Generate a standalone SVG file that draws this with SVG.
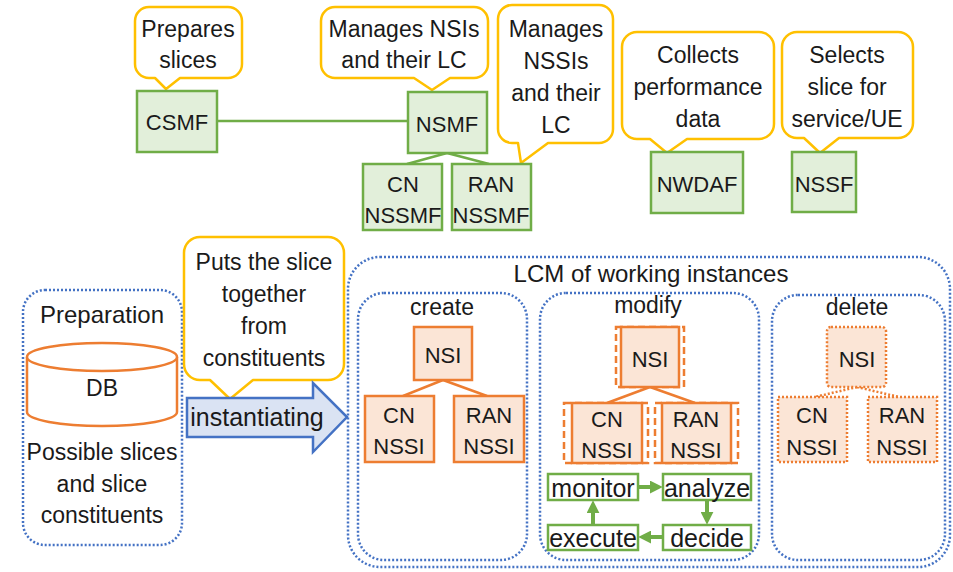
<svg xmlns="http://www.w3.org/2000/svg" width="953" height="572" viewBox="0 0 953 572">
<style>
.cal{fill:#fff;stroke:#ffc000;stroke-width:2.5;stroke-linejoin:round}
.g{fill:#e2efda;stroke:#70ad47;stroke-width:2.5}
.o{fill:#fbe5d6;stroke:#ed7d31;stroke-width:2.5}
.od{fill:none;stroke:#ed7d31;stroke-width:2.5;stroke-dasharray:7 4}
.odot{fill:#fbe5d6;stroke:#ed7d31;stroke-width:2.5;stroke-dasharray:2 2}
.bl{fill:none;stroke:#4472c4;stroke-width:2.5;stroke-dasharray:2 2}
.m{fill:#fff;stroke:#70ad47;stroke-width:2.5}
.gl{stroke:#70ad47;stroke-width:2.5;fill:none}
.ol{stroke:#ed7d31;stroke-width:2.5;fill:none}
.oldot{stroke:#ed7d31;stroke-width:2.5;fill:none;stroke-dasharray:2 2}
.ga{stroke:#70ad47;stroke-width:4;fill:none;marker-end:url(#ah)}
text{font-family:"Liberation Sans",Arial,sans-serif;font-size:23px;fill:#1a1a1a;text-anchor:middle}
.b{font-size:22px}
.big{font-size:24px}
.mp{font-size:25px}
</style>
<defs>
<marker id="ah" viewBox="0 0 10 10" refX="4" refY="5" markerWidth="13" markerHeight="13" markerUnits="userSpaceOnUse" orient="auto"><path d="M0,0 L10,5 L0,10 Z" fill="#70ad47"/></marker>
</defs>

<g id="connectors">
<line class="gl" x1="217" y1="121" x2="408" y2="121"/>
<line class="gl" x1="447" y1="153" x2="407" y2="164"/>
<line class="gl" x1="447" y1="153" x2="489" y2="164"/>
<line class="ol" x1="443" y1="380" x2="403" y2="396"/>
<line class="ol" x1="443" y1="380" x2="487" y2="396"/>
<line class="ol" x1="650" y1="387" x2="607" y2="403"/>
<line class="ol" x1="650" y1="387" x2="695" y2="403"/>
<line class="oldot" x1="857" y1="387" x2="815" y2="397"/>
<line class="oldot" x1="857" y1="387" x2="899" y2="397"/>
<line class="ga" x1="638" y1="487" x2="655" y2="487"/>
<line class="ga" x1="707" y1="500" x2="707" y2="517"/>
<line class="ga" x1="663" y1="537" x2="646" y2="537"/>
<line class="ga" x1="593" y1="525" x2="593" y2="508"/>
</g>

<g id="callout-csmf">
<path class="cal" d="M149,7 H228 A14,14 0 0 1 242,21 V64 A14,14 0 0 1 228,78 H180 L166,89 L155,78 H149 A14,14 0 0 1 135,64 V21 A14,14 0 0 1 149,7 Z"/>
<text x="188" y="37">Prepares</text><text x="188" y="68">slices</text>
</g>
<g id="callout-nsmf">
<path class="cal" d="M335,7 H474 A14,14 0 0 1 488,21 V64 A14,14 0 0 1 474,78 H450 L432,90 L414,78 H335 A14,14 0 0 1 321,64 V21 A14,14 0 0 1 335,7 Z"/>
<text x="404" y="37">Manages NSIs</text><text x="404" y="68">and their LC</text>
</g>
<g id="callout-nssmf">
<path class="cal" d="M512,5 H599 A14,14 0 0 1 613,19 V129 A14,14 0 0 1 599,143 H548 L521,163 L518,143 H512 A14,14 0 0 1 498,129 V19 A14,14 0 0 1 512,5 Z"/>
<text x="556" y="37">Manages</text><text x="556" y="69">NSSIs</text><text x="556" y="101">and their</text><text x="556" y="133">LC</text>
</g>
<g id="callout-nwdaf">
<path class="cal" d="M637,32 H759 A15,15 0 0 1 774,47 V124 A15,15 0 0 1 759,139 H687 L667,153 L650,139 H637 A15,15 0 0 1 622,124 V47 A15,15 0 0 1 637,32 Z"/>
<text x="698" y="63">Collects</text><text x="698" y="95">performance</text><text x="698" y="127">data</text>
</g>
<g id="callout-nssf">
<path class="cal" d="M797,32 H898 A15,15 0 0 1 913,47 V123 A15,15 0 0 1 898,138 H839 L820,153 L804,138 H797 A15,15 0 0 1 782,123 V47 A15,15 0 0 1 797,32 Z"/>
<text x="847" y="63">Selects</text><text x="847" y="95">slice for</text><text x="847" y="127">service/UE</text>
</g>

<g id="csmf"><rect class="g" x="137" y="91" width="80" height="61"/><text class="b" x="177" y="130">CSMF</text></g>
<g id="nsmf"><rect class="g" x="408" y="92" width="79" height="61"/><text class="b" x="447" y="132">NSMF</text></g>
<g id="cn-nssmf"><rect class="g" x="363" y="164" width="79" height="66"/><text class="b" x="403" y="192">CN</text><text class="b" x="403" y="223">NSSMF</text></g>
<g id="ran-nssmf"><rect class="g" x="452" y="164" width="79" height="66"/><text class="b" x="491" y="192">RAN</text><text class="b" x="491" y="223">NSSMF</text></g>
<g id="nwdaf"><rect class="g" x="651" y="152" width="92" height="61"/><text class="b" x="697" y="192">NWDAF</text></g>
<g id="nssf"><rect class="g" x="792" y="152" width="64" height="60"/><text class="b" x="824" y="192">NSSF</text></g>

<g id="preparation">
<rect class="bl" x="23" y="290" width="159" height="255" rx="22"/>
<text class="big" x="102" y="323">Preparation</text>
<path d="M27,357 V412 A75,14 0 0 0 177,412 V357" fill="#fff" stroke="#ed7d31" stroke-width="2.5"/>
<ellipse cx="102" cy="357" rx="75" ry="14" fill="#fff" stroke="#ed7d31" stroke-width="2.5"/>
<text x="102" y="396">DB</text>
<text x="102" y="460">Possible slices</text><text x="102" y="492">and slice</text><text x="102" y="523">constituents</text>
</g>

<g id="callout-instantiating">
<path class="cal" d="M200,237 H328 A16,16 0 0 1 344,253 V364 A16,16 0 0 1 328,380 H253 L230,399 L210,380 H200 A16,16 0 0 1 184,364 V253 A16,16 0 0 1 200,237 Z"/>
<text x="264" y="270">Puts the slice</text><text x="264" y="302">together</text><text x="264" y="334">from</text><text x="264" y="366">constituents</text>
</g>
<g id="instantiating">
<polygon points="187,398 313,398 313,383 347,417 313,452 313,437 187,437" fill="#dae3f3" stroke="#4472c4" stroke-width="2.5" stroke-linejoin="miter"/>
<text class="big" x="257" y="426" style="font-size:25px">instantiating</text>
</g>

<g id="lcm">
<rect class="bl" x="348" y="257" width="602" height="310" rx="32"/>
<text class="big" x="651" y="282">LCM of working instances</text>
</g>

<g id="create">
<rect class="bl" x="358" y="293" width="169" height="267" rx="26"/>
<text x="442" y="315">create</text>
<g id="create-nsi"><rect class="o" x="414" y="327" width="58" height="53"/><text class="b" x="443" y="363">NSI</text></g>
<g id="create-cn"><rect class="o" x="365" y="396" width="69" height="66"/><text class="b" x="399" y="423">CN</text><text class="b" x="399" y="454">NSSI</text></g>
<g id="create-ran"><rect class="o" x="454" y="396" width="70" height="66"/><text class="b" x="489" y="423">RAN</text><text class="b" x="489" y="454">NSSI</text></g>
</g>

<g id="modify">
<rect class="bl" x="540" y="293" width="219" height="267" rx="26"/>
<text x="648" y="313">modify</text>
<g id="modify-nsi"><rect class="od" x="616" y="327" width="68" height="60"/><rect class="o" x="621" y="327" width="58" height="60"/><text class="b" x="650" y="367">NSI</text></g>
<g id="modify-cn"><rect class="od" x="564" y="403" width="84" height="60"/><rect class="o" x="572" y="403" width="70" height="60"/><text class="b" x="607" y="427">CN</text><text class="b" x="607" y="458">NSSI</text></g>
<g id="modify-ran"><rect class="od" x="655" y="403" width="83" height="60"/><rect class="o" x="662" y="403" width="69" height="60"/><text class="b" x="696" y="427">RAN</text><text class="b" x="696" y="458">NSSI</text></g>
<g id="monitor"><rect class="m" x="548" y="474" width="90" height="26"/><text class="mp" x="593" y="497">monitor</text></g>
<g id="analyze"><rect class="m" x="663" y="474" width="88" height="26"/><text class="mp" x="707" y="497">analyze</text></g>
<g id="execute"><rect class="m" x="548" y="525" width="90" height="25"/><text class="mp" x="593" y="547">execute</text></g>
<g id="decide"><rect class="m" x="663" y="525" width="88" height="25"/><text class="mp" x="707" y="547">decide</text></g>
</g>

<g id="delete">
<rect class="bl" x="772" y="295" width="173" height="265" rx="26"/>
<text x="857" y="315">delete</text>
<g id="delete-nsi"><rect class="odot" x="827" y="327" width="59" height="60" rx="4"/><text class="b" x="857" y="367">NSI</text></g>
<g id="delete-cn"><rect class="odot" x="778" y="397" width="69" height="65"/><text class="b" x="812" y="423">CN</text><text class="b" x="812" y="455">NSSI</text></g>
<g id="delete-ran"><rect class="odot" x="868" y="397" width="69" height="65"/><text class="b" x="902" y="423">RAN</text><text class="b" x="902" y="455">NSSI</text></g>
</g>
</svg>
